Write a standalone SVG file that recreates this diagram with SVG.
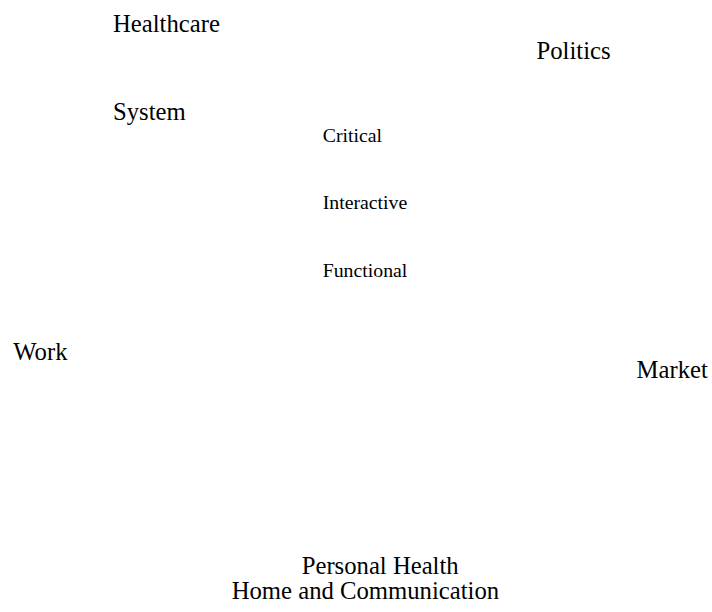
<svg xmlns="http://www.w3.org/2000/svg" width="712" height="612" viewBox="0 0 712 612">
<style>
text{font-family:"Liberation Serif","Times New Roman",serif;fill:#000}
.l{font-size:24.7px}
.s{font-size:19.8px}
</style>
<rect width="712" height="612" fill="#fff"/>
<g id="healthcare"><text class="l" x="113" y="31.5">Healthcare</text></g>
<g id="system"><text class="l" x="113" y="120">System</text></g>
<g id="politics"><text class="l" x="536.5" y="59.3">Politics</text></g>
<g id="critical"><text class="s" x="322.7" y="142.3">Critical</text></g>
<g id="interactive"><text class="s" x="322.7" y="209.3">Interactive</text></g>
<g id="functional"><text class="s" x="322.7" y="276.5">Functional</text></g>
<g id="work"><text class="l" x="13.3" y="360">Work</text></g>
<g id="market"><text class="l" x="636.5" y="378.3">Market</text></g>
<g id="personal-health"><text class="l" x="301.7" y="574.3">Personal Health</text></g>
<g id="home-communication"><text class="l" x="231.7" y="599.3">Home and Communication</text></g>
<g id="connectors"></g>
</svg>
